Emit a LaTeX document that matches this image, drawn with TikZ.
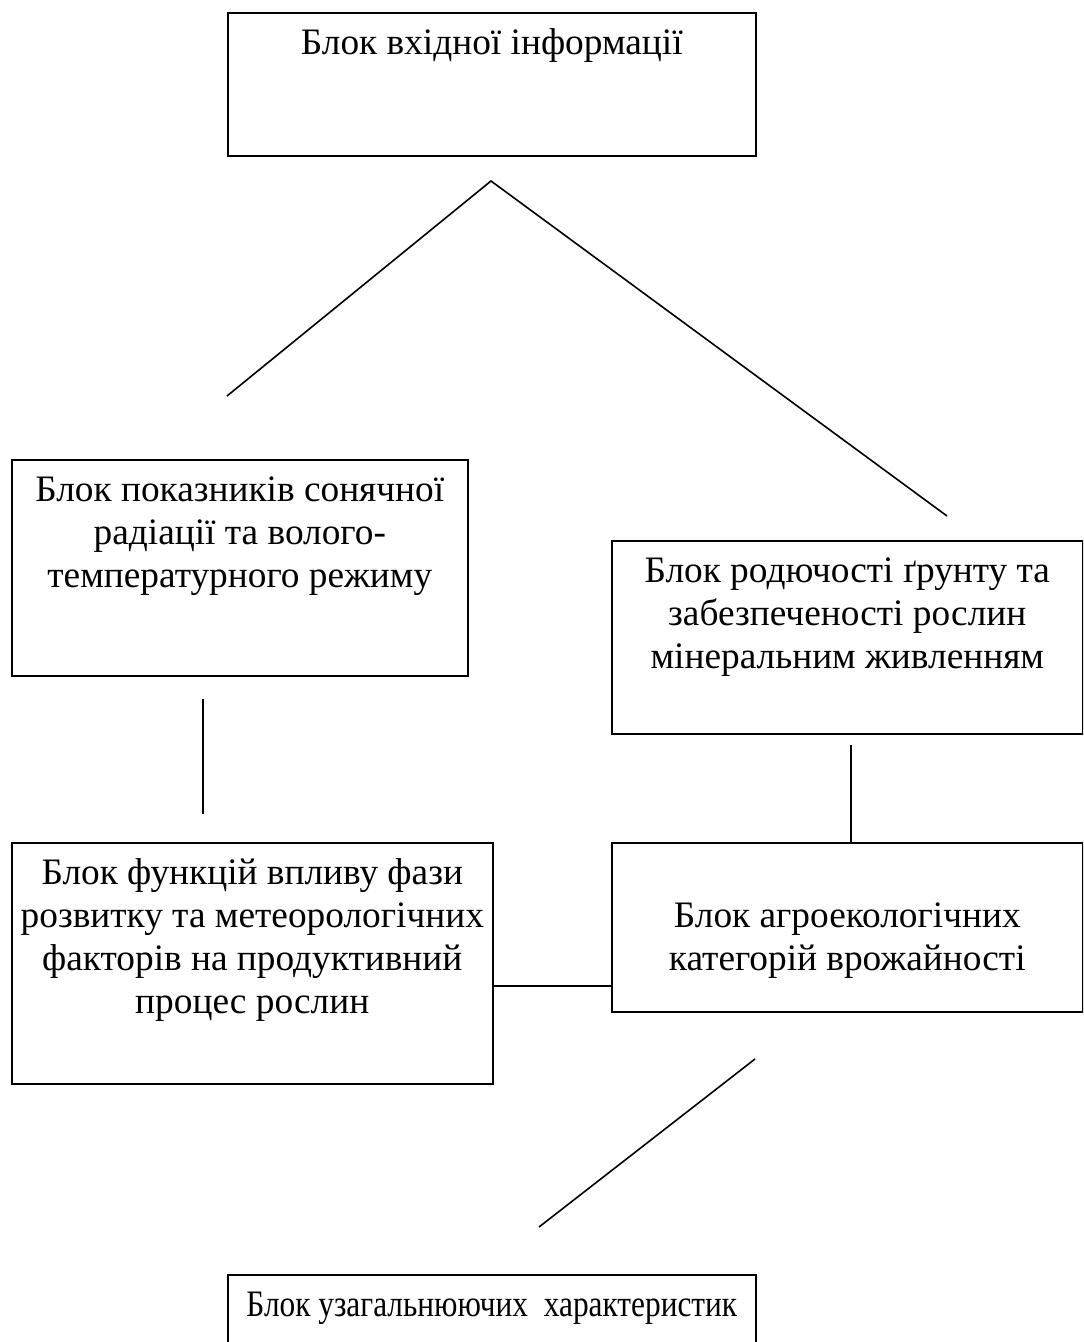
\documentclass[tikz,border=0pt]{standalone}
\usepackage{fontspec}
\setmainfont{Liberation Serif}
\newfontfamily\narrowfont[FakeStretch=0.84]{Liberation Serif}
\usepackage{tikz}
\usetikzlibrary{calc}
\newlength{\px}
\setlength{\px}{0.375pt}
\newcommand{\blokfont}{\fontsize{14pt}{16.1pt}\selectfont}
\newcommand{\blk}[3]{\parbox[c][#2\px][t]{#1\px}{\centering\rule{0pt}{15.6pt}#3}}
\tikzset{blok/.style={draw,line width=0.6pt,inner sep=0pt,anchor=north west,font=\blokfont},
  zv/.style={line width=0.6pt}}

\begin{document}
\begin{tikzpicture}[x=0.375pt,y=-0.375pt]
\useasboundingbox (0,0) rectangle (1083,1342);
\clip (0,0) rectangle (1083,1342);
\node[blok] (inp) at (227,12) {\blk{528}{143}{Блок вхідної інформації}};
\node[blok] (rad) at (11,459) {\blk{456}{216}{Блок показників сонячної\\радіації та волого-\\температурного режиму}};
\node[blok] (soil) at (611,540) {\blk{471}{193}{Блок родючості ґрунту та\\забезпеченості рослин\\мінеральним живленням}};
\node[blok] (func) at (11,842) {\blk{481}{241}{Блок функцій впливу фази\\розвитку та метеорологічних\\факторів на продуктивний\\процес рослин}};
\node[blok] (agro) at (611,842) {\blk{471}{169}{\\Блок агроекологічних\\категорій врожайності}};
\node[blok] (gen) at (227,1274) {\blk{528}{140}{\narrowfont Блок узагальнюючих~~характеристик}};
\coordinate (apex) at (491,181); \coordinate (l1) at (227,396); \coordinate (r1) at (947,516);
\coordinate (v1) at (203,699); \coordinate (v2) at (203,814);
\coordinate (s1) at (851,745); \coordinate (h) at (550,986);
\coordinate (d1) at (755,1059); \coordinate (d2) at (539,1227);
\draw[zv] (l1) -- (apex) -- (r1);
\draw[zv] (v1) -- (v2);
\draw[zv] (s1) -- (s1 |- agro.north);
\draw[zv] (func.east |- h) -- (agro.west |- h);
\draw[zv] (d1) -- (d2);
\end{tikzpicture}
\end{document}
